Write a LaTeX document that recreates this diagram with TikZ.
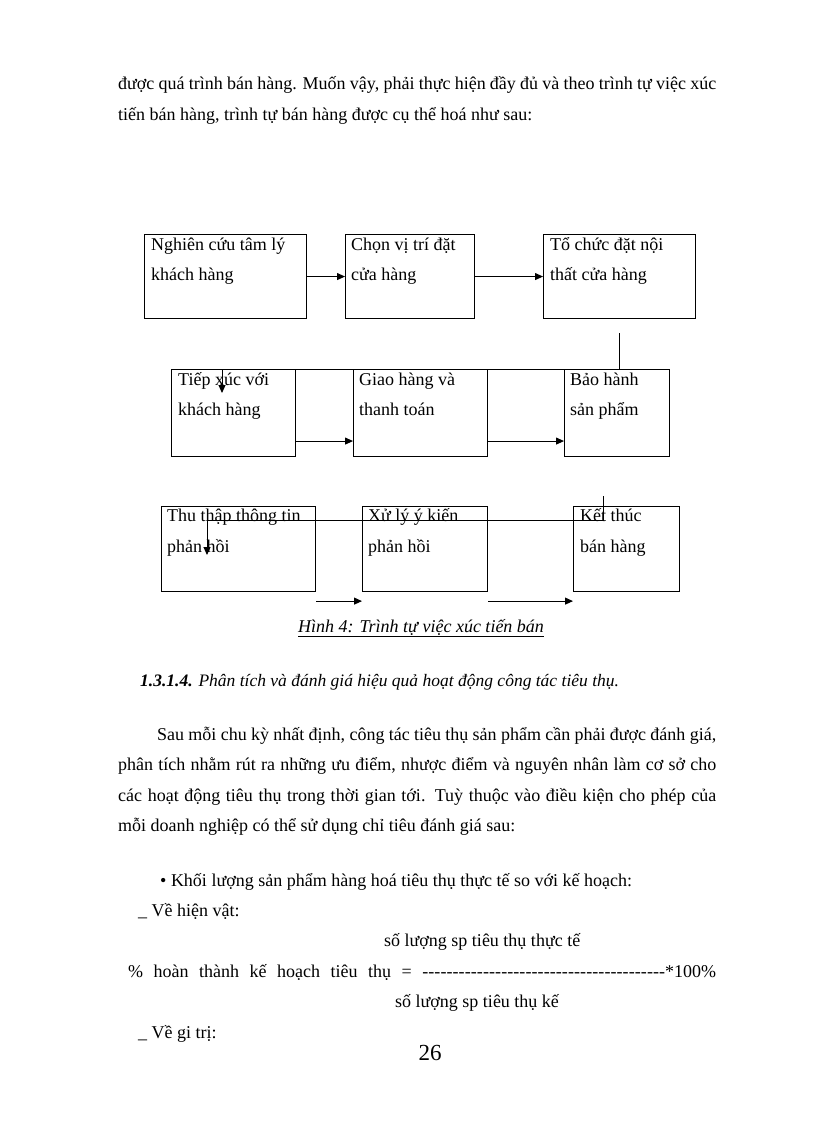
\documentclass[tikz,border=0pt]{standalone}
\usepackage{fontspec}
\setmainfont{Liberation Serif}
\usetikzlibrary{arrows.meta,calc}
\tikzset{
  box/.style={draw, line width=1.1pt, rectangle, inner sep=0pt, anchor=north west},
  txt/.style={anchor=base west, inner sep=0pt, font=\fontsize{18}{18}\selectfont},
  arr/.style={line width=1pt, -{Triangle[length=8pt,width=7pt]}},
  ln/.style={line width=1pt},
}
\begin{document}
\begin{tikzpicture}[x=1pt,y=-1pt]
\useasboundingbox[fill=white] (0,0) rectangle (816,1123);

% text above
\node[txt] (p1) at (118,90) {\makebox[598pt][s]{được quá trình bán hàng. Muốn vậy, phải thực hiện đầy đủ và theo trình tự việc xúc}};
\node[txt] (p2) at (118,121) {tiến bán hàng, trình tự bán hàng được cụ thể hoá như sau:};

% boxes
\node[box, minimum width=162pt, minimum height=84pt] (b1) at (144,234) {};
\node[box, minimum width=129pt, minimum height=84pt] (b2) at (345,234) {};
\node[box, minimum width=152pt, minimum height=84pt] (b3) at (543,234) {};
\node[box, minimum width=124pt, minimum height=87pt] (b4) at (171,369) {};
\node[box, minimum width=134pt, minimum height=87pt] (b5) at (353,369) {};
\node[box, minimum width=105pt, minimum height=87pt] (b6) at (564,369) {};
\node[box, minimum width=154pt, minimum height=84.5pt] (b7) at (161,506) {};
\node[box, minimum width=125pt, minimum height=84.5pt] (b8) at (362,506) {};
\node[box, minimum width=106pt, minimum height=84.5pt] (b9) at (573,506) {};

% box texts
\node[txt] (t1a) at (151,251) {Nghiên  cứu tâm lý};
\node[txt] (t1b) at (151,280) {khách  hàng};
\node[txt] (t2a) at (351,251) {Chọn vị trí đặt};
\node[txt] (t2b) at (351,280) {cửa hàng};
\node[txt] (t3a) at (550,251) {Tổ  chức đặt nội};
\node[txt] (t3b) at (550,280) {thất cửa hàng};
\node[txt] (t4a) at (178,385) {Tiếp xúc với};
\node[txt] (t4b) at (178,415) {khách hàng};
\node[txt] (t5a) at (359,385) {Giao hàng và};
\node[txt] (t5b) at (359,415) {thanh  toán};
\node[txt] (t6a) at (570,385) {Bảo hành};
\node[txt] (t6b) at (570,415) {sản phẩm};
\node[txt] (t7a) at (167,521) {Thu  thập thông tin};
\node[txt] (t7b) at (167,552) {phản hồi};
\node[txt] (t8a) at (368,521) {Xử lý ý kiến};
\node[txt] (t8b) at (368,552) {phản  hồi};
\node[txt] (t9a) at (580,521) {Kết thúc};
\node[txt] (t9b) at (580,552) {bán hàng};

% connectors
\draw[arr] (b1.east) -- (b2.west);
\draw[arr] (b2.east) -- (b3.west);
\coordinate (k1) at (222,369);
\draw[arr] ([yshift=-14pt]b3.south) |- (k1) -- ++(0,24);
\draw[arr] ([yshift=-28pt]b4.east) -- ([yshift=-28pt]b5.west);
\draw[arr] ([yshift=-28pt]b5.east) -- ([yshift=-28pt]b6.west);
\coordinate (k2) at (207,520);
\draw[arr] ($(b9.north west)+(30,-10)$) |- (k2) -- ++(0,35);
\draw[arr] ([yshift=-9.5pt]b7.south east) -- ([yshift=-9.5pt]b8.south west);
\draw[arr] ([yshift=-9.5pt]b8.south east) -- ([yshift=-9.5pt]b9.south west);

% caption
\node[txt, font=\fontsize{18}{18}\selectfont\itshape] (cap) at (298,632) {\underline{Hình 4: Trình tự việc xúc tiến bán}};

% heading
\node[txt, font=\fontsize{17.5}{18}\selectfont] (h) at (140,686) {\textbf{\textit{1.3.1.4.}} \textit{Phân tích và đánh giá hiệu quả hoạt động công tác tiêu thụ.}};

% paragraph
\node[txt] (q1) at (157,740) {\makebox[559pt][s]{Sau mỗi chu kỳ nhất định, công tác tiêu thụ sản phẩm cần phải được đánh giá,}};
\node[txt] (q2) at (118,770) {\makebox[598pt][s]{phân tích nhằm rút ra những ưu điểm, nhược điểm và nguyên nhân làm cơ sở cho}};
\node[txt] (q3) at (118,801) {\makebox[598pt][s]{các hoạt động tiêu thụ trong thời gian tới. Tuỳ thuộc vào điều kiện cho phép của}};
\node[txt] (q4) at (118,831) {mỗi doanh nghiệp có thể sử dụng chỉ tiêu đánh giá sau:};

\node[txt] (bu) at (160,886) {• Khối lượng sản phẩm hàng hoá tiêu thụ thực tế so với kế hoạch:};
\node[txt] (v1) at (138,916) {\_ Về hiện vật:};
\node[txt] (f1) at (384,946) {số lượng sp tiêu thụ thực tế};
\node[txt] (f2) at (128,977) {\makebox[588pt][s]{\% hoàn thành kế hoạch tiêu thụ = \makebox[243pt]{\xleaders\hbox{-}\hfill}*100\%}};
\node[txt] (f3) at (395,1007) {số lượng sp tiêu thụ kế};
\node[txt] (v2) at (138,1038) {\_ Về gi trị:};

\node[anchor=base, inner sep=0pt, font=\fontsize{23}{23}\selectfont] (pg) at (430,1060) {26};
\end{tikzpicture}
\end{document}
